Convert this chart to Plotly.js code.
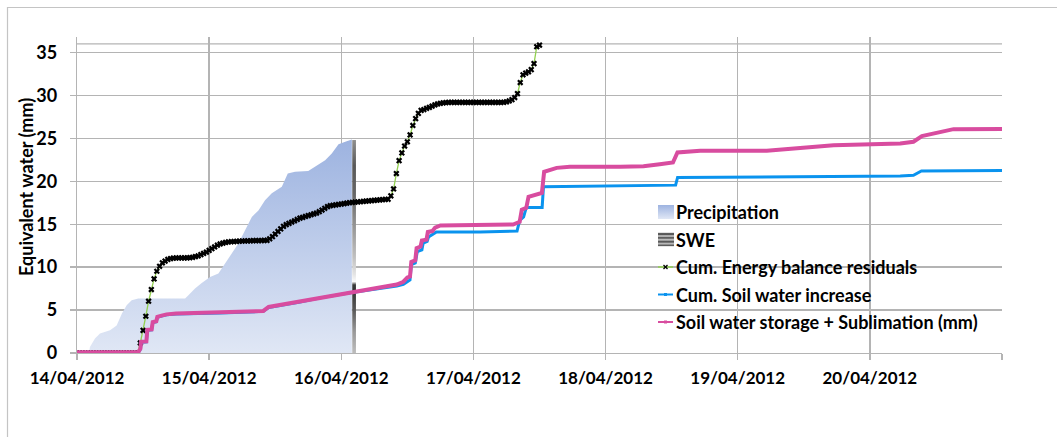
<!DOCTYPE html>
<html>
<head>
<meta charset="utf-8">
<script src="https://cdn.plot.ly/plotly-3.0.1.min.js"></script>
<style>
  html, body { margin: 0; padding: 0; background: #ffffff; }
  #chart { width: 1057px; height: 437px; }
</style>
</head>
<body>
<div id="chart"></div>
<script>
// Time axis in days since 14/04/2012 00:00
const tickDays = [0, 1, 2, 3, 4, 5, 6, 7];
const tickLabels = ['14/04/2012', '15/04/2012', '16/04/2012', '17/04/2012',
                    '18/04/2012', '19/04/2012', '20/04/2012', ''];

// Cumulative precipitation (mm)
const precipDays = [0, 0.09, 0.098, 0.136, 0.174, 0.25, 0.3, 0.34, 0.376, 0.414, 0.464,
                    0.818, 0.843, 0.893, 0.944, 1.007, 1.07, 1.12, 1.171, 1.221, 1.272,
                    1.323, 1.373, 1.423, 1.474, 1.55, 1.595, 1.65, 1.75, 1.8, 1.878,
                    1.928, 1.979, 2.03, 2.08];
const precipMm = [0, 0, 0.7, 1.7, 2.26, 2.65, 3.2, 4.6, 5.56, 6.14, 6.34,
                  6.34, 6.72, 7.5, 8.16, 8.86, 9.25, 10.4, 11.6, 12.75, 14.3,
                  15.85, 16.6, 17.8, 18.6, 19.35, 20.9, 21.1, 21.2, 21.7, 22.46,
                  23.24, 24.3, 24.6, 24.87];

// Snow water equivalent (mm)
const sweDays = [2.083, 2.083, 2.111, 2.111];
const sweMm = [0, 24.8, 24.8, 0];

// Cumulative energy balance residuals (mm), half-hourly from 14/04 00:00
const energyStepDays = 1 / 48;
const energyMm = [
  0, 0, 0, 0, 0, 0, 0, 0, 0, 0, 0, 0,
  0, 0, 0, 0, 0, 0, 0, 0, 0, 0, 0, 1.17,
  2.64, 4.28, 6.03, 7.39, 8.63, 9.52, 10.1, 10.5, 10.7, 10.9, 11.0, 11.05,
  11.07, 11.07, 11.07, 11.08, 11.08, 11.1, 11.15, 11.22, 11.3, 11.45, 11.6, 11.75,
  11.95, 12.15, 12.35, 12.55, 12.7, 12.8, 12.88, 12.93, 12.96, 12.98, 13.0, 13.02,
  13.04, 13.05, 13.06, 13.07, 13.08, 13.09, 13.1, 13.1, 13.11, 13.12, 13.3, 13.55,
  13.85, 14.15, 14.45, 14.75, 14.95, 15.1, 15.25, 15.4, 15.55, 15.7, 15.8, 15.9,
  16.0, 16.1, 16.2, 16.3, 16.45, 16.65, 16.85, 17.05, 17.15, 17.2, 17.25, 17.3,
  17.35, 17.4, 17.45, 17.5, 17.53, 17.56, 17.59, 17.62, 17.65, 17.68, 17.71, 17.74,
  17.77, 17.8, 17.83, 17.86, 17.88, 17.9, 18.3, 19.1, 20.9, 22.4, 23.3, 24.1,
  24.6, 25.4, 26.5, 27.3, 27.9, 28.25, 28.35, 28.5, 28.6, 28.75, 28.9, 29.0,
  29.08, 29.13, 29.17, 29.18, 29.18, 29.18, 29.18, 29.18, 29.18, 29.18, 29.18, 29.18,
  29.18, 29.18, 29.18, 29.18, 29.18, 29.18, 29.18, 29.18, 29.18, 29.18, 29.18, 29.2,
  29.25, 29.35, 29.5, 29.75, 30.2, 31.5, 32.4, 32.6, 32.75, 33.0, 33.7, 35.67,
  35.86
];
const energyDays = energyMm.map((_, i) => i * energyStepDays);

// Cumulative soil water increase (mm)
const soilDays = [0, 0.464, 0.48, 0.485, 0.525, 0.532, 0.565, 0.573, 0.6, 0.608, 0.64,
                  0.678, 0.75, 1.083, 1.41, 1.45, 1.677, 1.853, 2.08, 2.243, 2.42,
                  2.47, 2.5, 2.52, 2.53, 2.56, 2.575, 2.61, 2.62, 2.65, 2.66,
                  2.69, 2.72, 3.05, 3.33, 3.35, 3.38, 3.4, 3.52, 3.53, 4.0,
                  4.35, 4.53, 4.545, 5.2, 6.23, 6.33, 6.39, 7.0];
const soilMm = [0.05, 0.05, 0.45, 1.25, 1.3, 2.65, 2.7, 3.55, 3.65, 4.15, 4.3,
                4.45, 4.55, 4.65, 4.85, 5.3, 5.9, 6.45, 7.05, 7.4, 7.8,
                8.0, 8.3, 8.5, 10.3, 10.5, 11.8, 12.0, 12.8, 13.0, 13.5,
                13.8, 14.1, 14.1, 14.2, 15.45, 15.85, 16.95, 16.95, 19.35, 19.43,
                19.5, 19.55, 20.44, 20.52, 20.6, 20.7, 21.2, 21.25];

// Soil water storage + sublimation (mm)
const storageDays = [0, 0.464, 0.48, 0.485, 0.525, 0.532, 0.565, 0.573, 0.6, 0.608, 0.64,
                     0.678, 0.75, 1.083, 1.41, 1.45, 1.677, 1.853, 2.08, 2.243, 2.42,
                     2.47, 2.5, 2.52, 2.53, 2.56, 2.57, 2.6, 2.61, 2.645, 2.655,
                     2.69, 2.71, 2.75, 3.05, 3.3, 3.35, 3.366, 3.4, 3.417, 3.518,
                     3.535, 3.63, 3.73, 4.11, 4.287, 4.41, 4.51, 4.544, 4.716, 5.22,
                     5.725, 6.23, 6.33, 6.394, 6.48, 6.633, 7.0];
const storageMm = [0.1, 0.1, 0.5, 1.3, 1.35, 2.7, 2.75, 3.6, 3.7, 4.2, 4.35,
                   4.5, 4.6, 4.7, 4.9, 5.36, 5.95, 6.5, 7.1, 7.5, 7.97,
                   8.3, 8.8, 8.9, 10.6, 10.8, 12.2, 12.4, 13.1, 13.2, 14.1,
                   14.2, 14.6, 14.85, 14.9, 14.96, 15.27, 16.7, 16.9, 18.2, 18.65,
                   21.1, 21.56, 21.68, 21.7, 21.76, 21.99, 22.19, 23.36, 23.55, 23.55,
                   24.2, 24.4, 24.6, 25.26, 25.57, 26.07, 26.1];

const seriesNames = ['Precipitation', 'SWE', 'Cum. Energy balance residuals',
                     'Cum. Soil water increase', 'Soil water storage + Sublimation (mm)'];

const colors = {
  precipTop: '#9db3e0', precipBottom: '#e0e7f5',
  energyLine: '#92d050', energyMarker: '#000000',
  soil: '#0a93ee', storage: '#d84c9f',
  grid: '#b4b4b4', frame: '#c4c4c4'
};

// Plot area geometry (pixels) used to place legend and frame in paper space
const W = 1057, H = 437;
const M = { l: 77, r: 55, t: 37, b: 84 };
const PW = W - M.l - M.r, PH = H - M.t - M.b;
const px2x = px => (px - M.l) / PW;
const py2y = py => (M.t + PH - py) / PH;

const FONT = 'Lato, "Open Sans", sans-serif';

const traces = [
  {
    name: seriesNames[0], x: precipDays, y: precipMm, type: 'scatter', mode: 'lines',
    line: { width: 0 }, fill: 'tozeroy',
    fillgradient: { type: 'vertical', colorscale: [[0, colors.precipBottom], [1, colors.precipTop]] },
    hoverinfo: 'skip'
  },
  {
    name: seriesNames[1], x: sweDays, y: sweMm, type: 'scatter', mode: 'lines',
    line: { width: 0 }, fill: 'toself',
    fillgradient: {
      type: 'vertical',
      colorscale: [[0, '#bdbdbd'], [0.1, '#999999'], [0.2, '#5a5a5a'], [0.3, '#333333'],
                   [0.32, '#3a3a3a'], [0.335, '#fafafa'], [0.37, '#e4e4e4'], [0.45, '#c0c0c0'],
                   [0.6, '#949494'], [0.75, '#666666'], [0.88, '#595959'], [1, '#8f8f8f']]
    },
    hoverinfo: 'skip'
  },
  {
    name: seriesNames[2], x: energyDays, y: energyMm, type: 'scatter', mode: 'lines+markers',
    line: { color: colors.energyLine, width: 1.3 },
    marker: { symbol: 'x', size: 5.5, color: colors.energyMarker }
  },
  {
    name: seriesNames[3], x: soilDays, y: soilMm, type: 'scatter', mode: 'lines',
    line: { color: colors.soil, width: 3 }
  },
  {
    name: seriesNames[4], x: storageDays, y: storageMm, type: 'scatter', mode: 'lines',
    line: { color: colors.storage, width: 4 }
  }
];

// Legend built from series names
const legendLeft = 656, legendRight = 987, legendTop = 197, legendBottom = 336;
const legendRowY = [212, 239.5, 267, 294.5, 322];
const symX0 = 658, symX1 = 673, textX = 674;

const swatch = (stops) => 'data:image/svg+xml;charset=utf-8,' + encodeURIComponent(
  '<svg xmlns="http://www.w3.org/2000/svg" width="16" height="14" viewBox="0 0 16 14">' +
  '<defs><linearGradient id="g" x1="0" y1="0" x2="0" y2="1">' +
  stops.map(s => '<stop offset="' + s[0] + '" stop-color="' + s[1] + '"/>').join('') +
  '</linearGradient></defs><rect width="16" height="14" fill="url(#g)"/></svg>');

const shapes = [
  // chart frame
  {
    type: 'path', xref: 'paper', yref: 'paper', layer: 'below',
    path: `M${px2x(7.5)},${py2y(445)} L${px2x(7.5)},${py2y(7.5)} L${px2x(1065)},${py2y(7.5)}`,
    line: { color: colors.frame, width: 1.2 }
  },
  // upper boundary line
  {
    type: 'line', xref: 'paper', yref: 'y', x0: 0, x1: 1, y0: 36, y1: 36,
    line: { color: colors.grid, width: 1.3 }, layer: 'below'
  },
  // legend background
  {
    type: 'rect', xref: 'paper', yref: 'paper', layer: 'between',
    x0: px2x(legendLeft), x1: px2x(legendRight), y0: py2y(legendBottom), y1: py2y(legendTop),
    fillcolor: '#ffffff', line: { width: 0 }
  }
];

const lineSymbol = (row, color, width) => ({
  type: 'line', xref: 'paper', yref: 'paper', layer: 'above',
  x0: px2x(symX0), x1: px2x(symX1), y0: py2y(legendRowY[row]), y1: py2y(legendRowY[row]),
  line: { color: color, width: width }
});
const cx = (symX0 + symX1) / 2;
shapes.push(lineSymbol(2, colors.energyLine, 1.5));
shapes.push({ type: 'line', xref: 'paper', yref: 'paper', layer: 'above',
  x0: px2x(cx - 2), x1: px2x(cx + 2), y0: py2y(legendRowY[2] - 2), y1: py2y(legendRowY[2] + 2),
  line: { color: '#000', width: 1.3 } });
shapes.push({ type: 'line', xref: 'paper', yref: 'paper', layer: 'above',
  x0: px2x(cx - 2), x1: px2x(cx + 2), y0: py2y(legendRowY[2] + 2), y1: py2y(legendRowY[2] - 2),
  line: { color: '#000', width: 1.3 } });
shapes.push(lineSymbol(3, colors.soil, 2));
shapes.push({ type: 'rect', xref: 'paper', yref: 'paper', layer: 'above',
  x0: px2x(cx - 1.5), x1: px2x(cx + 1.5), y0: py2y(legendRowY[3] + 1.5), y1: py2y(legendRowY[3] - 1.5),
  fillcolor: colors.soil, line: { width: 0 } });
shapes.push(lineSymbol(4, colors.storage, 2));
shapes.push({ type: 'rect', xref: 'paper', yref: 'paper', layer: 'above',
  x0: px2x(cx - 1.5), x1: px2x(cx + 1.5), y0: py2y(legendRowY[4] + 1.5), y1: py2y(legendRowY[4] - 1.5),
  fillcolor: colors.storage, line: { width: 0 } });

const images = [
  {
    source: swatch([[0, colors.precipTop], [1, colors.precipBottom]]),
    xref: 'paper', yref: 'paper', x: px2x(symX0), y: py2y(legendRowY[0] - 7),
    sizex: (symX1 - symX0 + 1) / PW, sizey: 14 / PH, sizing: 'stretch',
    xanchor: 'left', yanchor: 'top', layer: 'above'
  },
  {
    source: swatch([[0, '#8a8a8a'], [0.12, '#3c3c3c'], [0.25, '#d8d8d8'], [0.38, '#444444'],
                    [0.52, '#cfcfcf'], [0.66, '#484848'], [0.8, '#c4c4c4'], [0.92, '#555555'], [1, '#9a9a9a']]),
    xref: 'paper', yref: 'paper', x: px2x(symX0), y: py2y(legendRowY[1] - 7),
    sizex: (symX1 - symX0 + 1) / PW, sizey: 14 / PH, sizing: 'stretch',
    xanchor: 'left', yanchor: 'top', layer: 'above'
  }
];

const annotations = seriesNames.map((name, i) => ({
  text: name, xref: 'paper', yref: 'paper', x: px2x(textX), y: py2y(legendRowY[i]),
  xanchor: 'left', yanchor: 'middle', showarrow: false,
  font: { family: FONT, size: 18, color: '#000', weight: 'bold' }
}));
annotations.push({
  text: 'Equivalent water (mm)', xref: 'paper', yref: 'paper',
  x: px2x(26), y: py2y(187), xanchor: 'center', yanchor: 'middle', textangle: -90,
  showarrow: false, font: { family: FONT, size: 18, color: '#000', weight: 'bold' }
});

const layout = {
  width: W, height: H,
  margin: M,
  paper_bgcolor: '#ffffff', plot_bgcolor: '#ffffff',
  showlegend: false,
  xaxis: {
    range: [0, 7], tickmode: 'array', tickvals: tickDays, ticktext: tickLabels,
    showgrid: true, gridcolor: colors.grid, gridwidth: 1.3,
    showline: true, linecolor: colors.grid, linewidth: 1.3,
    ticks: 'outside', ticklen: 6, tickcolor: colors.grid, tickwidth: 1.3,
    zeroline: false, fixedrange: true, ticklabelstandoff: 3,
    tickfont: { family: FONT, size: 17, color: '#000', weight: 'bold' }
  },
  yaxis: {
    range: [0, 36.8], tick0: 0, dtick: 5,
    showgrid: true, gridcolor: colors.grid, gridwidth: 1.3,
    showline: true, linecolor: colors.grid, linewidth: 1.3,
    ticks: 'outside', ticklen: 6, tickcolor: colors.grid, tickwidth: 1.3,
    zeroline: false, fixedrange: true, ticklabelstandoff: 9,
    tickfont: { family: FONT, size: 18, color: '#000', weight: 'bold' }
  },
  shapes: shapes,
  images: images,
  annotations: annotations
};

Plotly.newPlot('chart', traces, layout, { staticPlot: true, displayModeBar: false });
</script>
</body>
</html>
